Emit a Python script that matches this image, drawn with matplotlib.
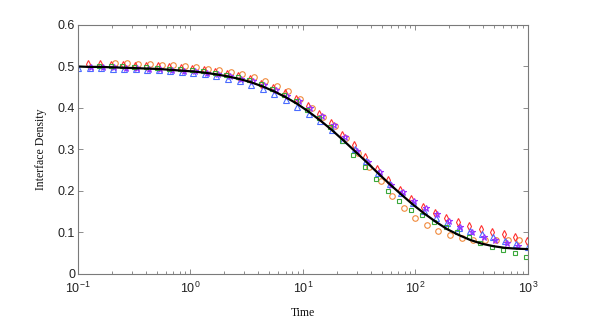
import numpy as np
import matplotlib
matplotlib.use('Agg')
import matplotlib.pyplot as plt
from matplotlib.ticker import LogLocator, NullFormatter

# sampling times (shared grid, 40 log-spaced points)
time = [0.1, 0.1266, 0.1603, 0.2030, 0.2571, 0.3257, 0.4125, 0.5225, 0.6616, 0.8377,
        1.061, 1.344, 1.701, 2.154, 2.728, 3.455, 4.375, 5.541, 7.017, 8.887,
        11.25, 14.25, 18.05, 22.86, 28.94, 36.65, 46.42, 58.78, 74.44, 94.27,
        119.4, 151.2, 191.5, 242.5, 307.1, 388.9, 492.5, 623.7, 789.8, 1000.0]

# theory curve
theory = [0.500, 0.499, 0.499, 0.498, 0.497, 0.496, 0.495, 0.494, 0.492, 0.490,
          0.488, 0.485, 0.481, 0.476, 0.470, 0.462, 0.452, 0.440, 0.426, 0.410,
          0.391, 0.370, 0.347, 0.322, 0.296, 0.270, 0.243, 0.217, 0.192, 0.168,
          0.146, 0.126, 0.108, 0.094, 0.082, 0.073, 0.067, 0.063, 0.061, 0.060]

N = None
orange = [N, N, N, 0.509, 0.508, 0.507, 0.505, 0.504, 0.503, 0.501,
          0.498, 0.495, 0.491, 0.487, 0.481, 0.474, 0.464, 0.453, 0.440, 0.421,
          0.401, 0.379, 0.357, 0.328, 0.292, 0.257, 0.224, 0.188, 0.160, 0.135,
          0.118, 0.104, 0.095, 0.087, 0.083, 0.082, 0.083, 0.082, 0.082, N]
red = [N, 0.505, 0.505, 0.504, 0.503, 0.502, 0.501, 0.500, 0.498, 0.496,
       0.494, 0.491, 0.487, 0.482, 0.476, 0.469, 0.459, 0.448, 0.435, 0.421,
       0.404, 0.386, 0.364, 0.336, 0.310, 0.283, 0.252, 0.227, 0.202, 0.180,
       0.161, 0.146, 0.134, 0.126, 0.116, 0.108, 0.102, 0.096, 0.090, 0.080]
blue = [0.497, 0.496, 0.496, 0.495, 0.494, 0.493, 0.492, 0.491, 0.489, 0.487,
        0.485, 0.481, 0.477, 0.471, 0.464, 0.455, 0.445, 0.433, 0.419, 0.403,
        0.386, 0.368, 0.348, 0.324, 0.302, 0.273, 0.243, 0.217, 0.195, 0.172,
        0.152, 0.135, 0.124, 0.112, 0.104, 0.097, 0.090, 0.079, 0.072, 0.065]
purple = [N, 0.499, 0.499, 0.498, 0.497, 0.496, 0.495, 0.494, 0.492, 0.490,
          0.488, 0.485, 0.481, 0.477, 0.471, 0.464, 0.455, 0.444, 0.430, 0.417,
          0.399, 0.381, 0.359, 0.329, 0.297, 0.270, 0.246, 0.215, 0.198, 0.177,
          0.158, 0.144, 0.128, 0.113, 0.100, 0.089, 0.081, 0.074, 0.068, N]
green = [N, N, 0.502, 0.501, 0.500, 0.499, 0.498, 0.497, 0.495, 0.493,
         0.491, 0.488, 0.485, 0.480, 0.475, 0.468, 0.458, 0.446, 0.431, 0.418,
         0.396, 0.376, 0.355, 0.321, 0.287, 0.259, 0.228, 0.201, 0.177, 0.154,
         0.142, 0.126, 0.114, 0.100, 0.088, 0.075, 0.066, 0.058, 0.050, 0.040]

yticks = [0, 0.1, 0.2, 0.3, 0.4, 0.5, 0.6]
ytick_labels = ['0', '0.1', '0.2', '0.3', '0.4', '0.5', '0.6']

# each run was sampled slightly off the shared grid (in decades)
lag = {'orange': 0.025, 'red': -0.01, 'blue': 0.0, 'purple': 0.015, 'green': -0.015}

plt.rcParams['font.family'] = ['Liberation Sans', 'DejaVu Sans']
plt.rcParams['mathtext.fontset'] = 'custom'
plt.rcParams['mathtext.rm'] = 'Liberation Sans'
plt.rcParams['mathtext.it'] = 'Liberation Sans'

fig = plt.figure(figsize=(5.98, 3.32), dpi=100)
ax = fig.add_axes([0.1304, 0.1747, 0.7525, 0.75])

t = np.array(time)
def yv(vals):
    return np.array([np.nan if v is None else v for v in vals], dtype=float)

ms = 4
ax.plot(t * 10**lag['orange'], yv(orange), 'o', mfc='none', mec='#f08a3c', ms=ms, mew=0.8)
ax.plot(t * 10**lag['red'], yv(red), 'd', mfc='none', mec='#ff3030', ms=ms, mew=0.8)
ax.plot(t * 10**lag['blue'], yv(blue), '^', mfc='none', mec='#4a6cff', ms=ms, mew=0.8)
ax.plot(t * 10**lag['purple'], yv(purple), '*', mfc='none', mec='#9a30ff', ms=ms + 0.5, mew=0.8)
ax.plot(t * 10**lag['green'], yv(green), 's', mfc='none', mec='#3aa83a', ms=ms - 0.5, mew=0.8)
ax.plot(t, theory, '-', color='black', lw=1.6)

ax.set_xscale('log')
ax.set_xlim(0.1, 1000)
ax.set_ylim(0, 0.6)
ax.set_yticks(yticks)
ax.set_yticklabels(ytick_labels)
ax.xaxis.set_major_locator(LogLocator(base=10, numticks=10))
ax.xaxis.set_minor_locator(LogLocator(base=10, subs=np.arange(2, 10), numticks=20))
ax.xaxis.set_minor_formatter(NullFormatter())

for s in ax.spines.values():
    s.set_color('#7a7a7a')
    s.set_linewidth(0.8)
ax.tick_params(which='both', direction='in', top=True, right=True, color='#7a7a7a',
               labelsize=9, labelcolor='#222222', width=0.6)
ax.tick_params(which='major', length=3.5)
ax.tick_params(which='minor', length=2)
ax.tick_params(axis='y', pad=2)
ax.tick_params(axis='x', pad=5)

ax.set_xlabel('Time', family='Liberation Serif', fontsize=8.5, color='#111111', labelpad=8)
ax.set_ylabel('Interface Density', family='Liberation Serif', fontsize=8.5, color='#111111', labelpad=8)

fig.savefig('out.png', dpi=100)
